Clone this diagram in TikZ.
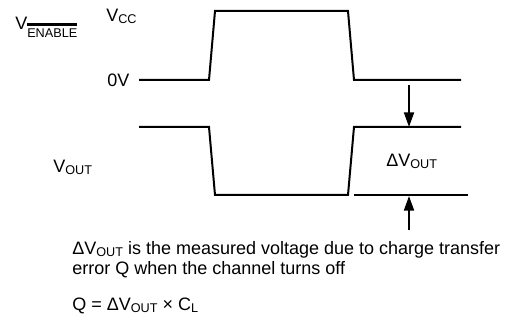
\documentclass[tikz,border=0pt]{standalone}
\usepackage{fontspec}
\setmainfont{Liberation Sans}
\usepackage{tikz}
\usetikzlibrary{arrows.meta}
\newcommand{\lo}[1]{\raisebox{-1.5pt}{\fontsize{9.5pt}{11pt}\selectfont #1}}
\newcommand{\lobar}[1]{\raisebox{-5.3pt}{\fontsize{9.5pt}{11pt}\selectfont\setbox0\hbox{#1}\rlap{\rule[\dimexpr\ht0+2pt\relax]{\wd0}{1.8pt}}\box0}}
\tikzset{wave/.style={line width=1.5pt},
         meas/.style={-{Triangle[length=11pt,width=7.5pt]},line width=1.5pt},
         lbl/.style={inner sep=0pt,anchor=base west,font=\fontsize{13.5pt}{15pt}\selectfont}}

\begin{document}
\begin{tikzpicture}[x=.75pt,y=-.75pt]
  \useasboundingbox (0,0) rectangle (511,320);
  % labels
  \node[lbl] (venable) at (15,30) {V\lobar{ENABLE}};
  \node[lbl] (vcc) at (106,22) {V\lo{CC}};
  \node[lbl] (zero) at (107,87) {0V};
  \node[lbl] (vout) at (53,173) {V\lo{OUT}};
  \node[lbl] (dvout) at (386,167) {ΔV\lo{OUT}};
  % waveforms
  \draw[wave] (139,80) -- (209,80) -- (215,11) -- (348,11) -- (354,80) -- (461,80);
  \draw[wave] (139,127) -- (209,127) -- (215,195) -- (348,195) -- (354,127) -- (461,127);
  \draw[wave] (354,195) -- (468,195);
  % offset arrows
  \coordinate (dntail) at (409,85);
  \coordinate (dnhead) at (409,127);
  \coordinate (uptail) at (409,230);
  \coordinate (uphead) at (409,196);
  \draw[meas] (dntail) -- (dnhead);
  \draw[meas] (uptail) -- (uphead);
  % note
  \node[lbl] (note1) at (72,255) {ΔV\lo{OUT} is the measured voltage due to charge transfer};
  \node[lbl] (note2) at (72,275) {error Q when the channel turns off};
  \node[lbl] (eq) at (72,311) {Q = ΔV\lo{OUT} × C\lo{L}};
\end{tikzpicture}
\end{document}
